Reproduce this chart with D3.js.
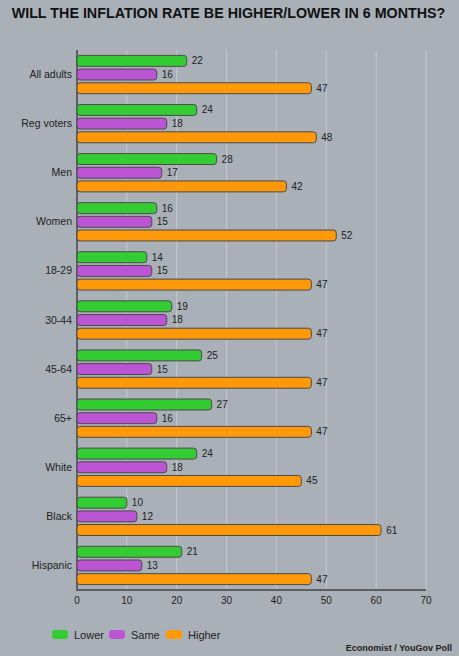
<!DOCTYPE html>
<html>
<head>
<meta charset="utf-8">
<script src="https://cdn.jsdelivr.net/npm/d3@7"></script>
<style>
  body { margin: 0; background: #aab0b8; }
  svg text { font-family: "Liberation Sans", Arial, sans-serif; }
</style>
</head>
<body>
<script>
var width = 459, height = 656;

// chart data
var categories = ["All adults", "Reg voters", "Men", "Women", "18-29", "30-44", "45-64", "65+", "White", "Black", "Hispanic"];
var seriesNames = ["Lower", "Same", "Higher"];
var lower  = [22, 24, 28, 16, 14, 19, 25, 27, 24, 10, 21];
var same   = [16, 18, 17, 15, 15, 18, 15, 16, 18, 12, 13];
var higher = [47, 48, 42, 52, 47, 47, 47, 47, 45, 61, 47];
var xTicks = [0, 10, 20, 30, 40, 50, 60, 70];

var colors = {"Lower": "#33cc33", "Same": "#bb55d4", "Higher": "#ff990a"};

var rows = categories.map(function(c, i) {
    return {cat: c, Lower: lower[i], Same: same[i], Higher: higher[i]};
});

var svg = d3.select("body")
    .append("svg")
    .attr("width", width)
    .attr("height", height);

svg.append("rect")
    .attr("width", width).attr("height", height)
    .attr("fill", "#aab0b8");

// title
svg.append("text")
    .attr("x", 228.5).attr("y", 18)
    .attr("text-anchor", "middle")
    .attr("font-size", 14.3)
    .attr("font-weight", "bold")
    .attr("fill", "#111")
    .text("WILL THE INFLATION RATE BE HIGHER/LOWER IN 6 MONTHS?");

var x = d3.scaleLinear().domain([0, 70]).range([77, 426]);

var y0 = d3.scaleBand()
    .domain(categories)
    .range([50, 590])
    .paddingInner(0.22)
    .paddingOuter(0.11);

var y1 = d3.scaleBand()
    .domain(seriesNames)
    .range([0, y0.bandwidth()])
    .paddingInner(0.2);

// gridlines
svg.append("g")
    .selectAll("line")
    .data(xTicks.slice(1))
    .enter()
    .append("line")
    .attr("x1", function(d) { return x(d); })
    .attr("x2", function(d) { return x(d); })
    .attr("y1", 50).attr("y2", 590)
    .attr("stroke", "#c4c8ce")
    .attr("stroke-width", 1);

// axes lines
svg.append("line")
    .attr("x1", 77).attr("x2", 77).attr("y1", 50).attr("y2", 591)
    .attr("stroke", "#5c5f63").attr("stroke-width", 2);
svg.append("line")
    .attr("x1", 76).attr("x2", 426).attr("y1", 590).attr("y2", 590)
    .attr("stroke", "#5c5f63").attr("stroke-width", 2);

// x tick labels
svg.append("g")
    .selectAll("text")
    .data(xTicks)
    .enter()
    .append("text")
    .attr("x", function(d) { return x(d); })
    .attr("y", 604)
    .attr("text-anchor", "middle")
    .attr("font-size", 10)
    .attr("fill", "#222")
    .text(function(d) { return d; });

// category labels
svg.append("g")
    .selectAll("text")
    .data(categories)
    .enter()
    .append("text")
    .attr("x", 72)
    .attr("y", function(d) { return y0(d) + y0.bandwidth() / 2 + 3.5; })
    .attr("text-anchor", "end")
    .attr("font-size", 10.5)
    .attr("fill", "#222")
    .text(function(d) { return d; });

// bars
var groups = svg.append("g")
    .selectAll("g")
    .data(rows)
    .enter()
    .append("g")
    .attr("transform", function(d) { return "translate(0," + y0(d.cat) + ")"; });

var bars = groups.selectAll("g")
    .data(function(d) {
        return seriesNames.map(function(s) { return {key: s, value: d[s]}; });
    })
    .enter()
    .append("g");

bars.append("rect")
    .attr("x", x(0))
    .attr("y", function(d) { return y1(d.key); })
    .attr("width", function(d) { return x(d.value) - x(0); })
    .attr("height", y1.bandwidth())
    .attr("rx", 3)
    .attr("fill", function(d) { return colors[d.key]; })
    .attr("stroke", "#4a4a4a")
    .attr("stroke-width", 1);

bars.append("text")
    .attr("x", function(d) { return x(d.value) + 5; })
    .attr("y", function(d) { return y1(d.key) + y1.bandwidth() / 2 + 3.5; })
    .attr("font-size", 10)
    .attr("fill", "#222")
    .text(function(d) { return d.value; });

// legend
var legendX = [52, 109, 166];
var legend = svg.append("g")
    .selectAll("g")
    .data(seriesNames)
    .enter()
    .append("g")
    .attr("transform", function(d, i) { return "translate(" + legendX[i] + ",630)"; });

legend.append("rect")
    .attr("width", 16).attr("height", 9)
    .attr("rx", 3)
    .attr("fill", function(d) { return colors[d]; });

legend.append("text")
    .attr("x", 22).attr("y", 8.5)
    .attr("font-size", 11)
    .attr("fill", "#222")
    .text(function(d) { return d; });

// source
svg.append("text")
    .attr("x", 452).attr("y", 651)
    .attr("text-anchor", "end")
    .attr("font-size", 9)
    .attr("font-weight", "bold")
    .attr("fill", "#222")
    .text("Economist / YouGov Poll");
</script>
</body>
</html>
